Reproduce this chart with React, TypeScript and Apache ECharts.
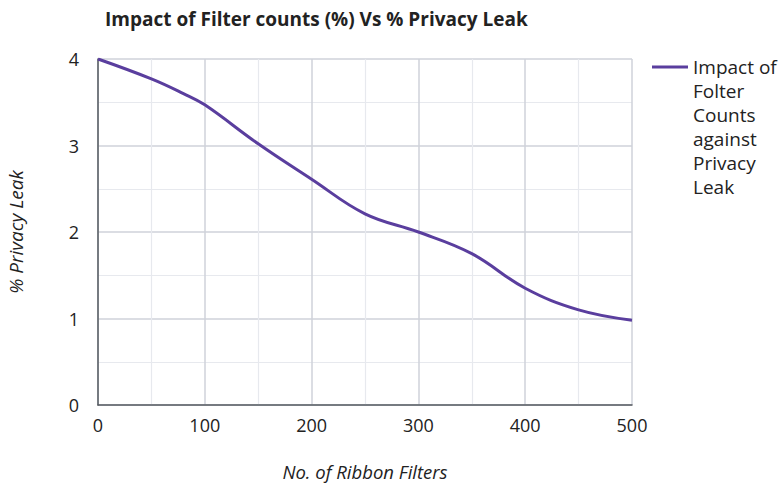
import React, { useEffect, useRef } from "react";
import * as echarts from "echarts";

// Number of ribbon filters (x) and the resulting % privacy leak (y)
const filterCounts = [0, 50, 80, 100, 150, 200, 250, 300, 350, 400, 450, 500];
const privacyLeak = [4.0, 3.77, 3.6, 3.47, 3.02, 2.61, 2.21, 2.0, 1.75, 1.35, 1.1, 0.98];

const titleText = "Impact of Filter counts (%) Vs % Privacy Leak";
const seriesName = "Impact of\nFolter\nCounts\nagainst\nPrivacy\nLeak";
const xAxisName = "No. of Ribbon Filters";
const yAxisName = "% Privacy Leak";

const FONT = "'Open Sans', 'Noto Sans', sans-serif";
const WIDTH = 783;
const HEIGHT = 483;

// Legend marker: a short bar beside the first text line; the empty sub-paths
// stretch the symbol box to the full height of the six-line label.
const LEGEND_LINE_HEIGHT = 24;
const LEGEND_BLOCK = LEGEND_LINE_HEIGHT * 6;
const legendIcon = `path://M0,0 L0,0 Z M0,10.5 L36,10.5 L36,13.5 L0,13.5 Z M0,${LEGEND_BLOCK} L0,${LEGEND_BLOCK} Z`;

export default function App() {
  const ref = useRef<HTMLDivElement>(null);

  useEffect(() => {
    if (!ref.current) return;
    document.body.style.margin = "0";
    const chart = echarts.init(ref.current, undefined, {
      renderer: "svg",
      width: WIDTH,
      height: HEIGHT,
    });
    const lineColor = "#5a3e9e";
    chart.setOption({
      animation: false,
      backgroundColor: "#ffffff",
      textStyle: { fontFamily: FONT },
      title: {
        text: titleText,
        left: 100,
        top: 4,
        textStyle: { fontFamily: FONT, fontSize: 19, fontWeight: "bold", color: "#222222" },
      },
      legend: {
        left: 652,
        top: 55,
        padding: 0,
        itemWidth: 36,
        itemHeight: LEGEND_BLOCK,
        itemGap: 0,
        data: [{ name: seriesName, icon: legendIcon }],
        textStyle: {
          fontFamily: FONT,
          fontSize: 19,
          color: "#222222",
          lineHeight: LEGEND_LINE_HEIGHT,
        },
      },
      grid: {
        left: 98,
        right: 151,
        top: 59,
        bottom: 78,
        containLabel: false,
        outerBoundsMode: "none",
      },
      xAxis: {
        type: "value",
        min: 0,
        max: 500,
        interval: 100,
        name: xAxisName,
        nameLocation: "middle",
        nameGap: 56,
        nameTextStyle: {
          fontFamily: FONT,
          fontSize: 18.5,
          fontStyle: "italic",
          color: "#222222",
          lineHeight: 20,
        },
        axisLine: { show: true, lineStyle: { color: "#555a60", width: 1.5 } },
        axisTick: { show: false },
        axisLabel: { fontFamily: FONT, fontSize: 18, color: "#222222", margin: 11 },
        splitLine: { show: true, lineStyle: { color: "#cfd2da", width: 1.5 } },
        minorTick: { show: false, splitNumber: 2 },
        minorSplitLine: { show: true, lineStyle: { color: "#e7e9ee", width: 1.2 } },
      },
      yAxis: {
        type: "value",
        min: 0,
        max: 4,
        interval: 1,
        name: yAxisName,
        nameLocation: "middle",
        nameGap: 73,
        nameRotate: 90,
        nameTextStyle: { fontFamily: FONT, fontSize: 19, fontStyle: "italic", color: "#222222" },
        axisLine: { show: true, lineStyle: { color: "#555a60", width: 1.5 } },
        axisTick: { show: false },
        axisLabel: { fontFamily: FONT, fontSize: 18, color: "#222222", margin: 19 },
        splitLine: { show: true, lineStyle: { color: "#cfd2da", width: 1.5 } },
        minorTick: { show: false, splitNumber: 2 },
        minorSplitLine: { show: true, lineStyle: { color: "#e7e9ee", width: 1.2 } },
      },
      series: [
        {
          name: seriesName,
          type: "line",
          smooth: 0.4,
          symbol: "none",
          color: lineColor,
          lineStyle: { color: lineColor, width: 3 },
          data: filterCounts.map((x, i) => [x, privacyLeak[i]]),
        },
      ],
    });
    return () => chart.dispose();
  }, []);

  return <div ref={ref} style={{ width: WIDTH, height: HEIGHT }} />;
}
